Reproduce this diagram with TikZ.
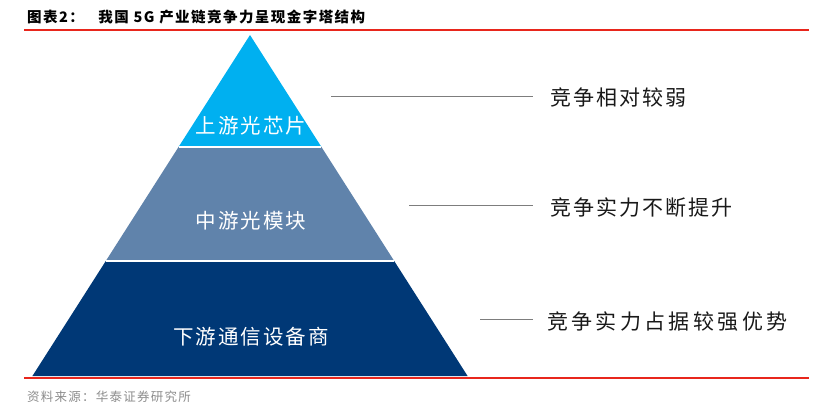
\documentclass[tikz,border=0pt]{standalone}
\usepackage{fontspec}
\usetikzlibrary{calc,positioning}
\newfontfamily\cjk{Noto Sans CJK SC}[LetterSpace=10]
\newfontfamily\cjkwide{Noto Sans CJK SC}[LetterSpace=16]
\definecolor{dgSky}  {RGB}{  0,176,240}
\definecolor{dgSteel}{RGB}{ 96,131,171}
\definecolor{dgNavy} {RGB}{  0, 56,118}
\definecolor{dgRule} {RGB}{232, 38, 28}
\definecolor{dgLead} {RGB}{125,125,125}
\definecolor{dgSrc}  {RGB}{140,140,140}
\definecolor{dgInk}  {RGB}{ 25, 25, 25}

\begin{document}
\begin{tikzpicture}[
  x=1pt,y=-1pt,
  tier/.style={draw=white,line width=1.5pt},
  tierlab/.style={text=white,inner sep=0pt,
                  font=\cjk\fontsize{20.5}{24}\selectfont},
  note/.style={text=dgInk,anchor=west,inner sep=0pt,
               font=\cjk\fontsize{21}{24}\selectfont},
  lead/.style={draw=dgLead,line width=1.5pt},
  rule/.style={draw=dgRule,line width=1.3pt}
]
\useasboundingbox (0,0) rectangle (821,418);

% --- header and footer
\node[anchor=west,inner sep=0pt,text=black,
      font=\cjk\bfseries\fontsize{14.5}{16}\selectfont] (title) at (27,17)
     {图表2：\hspace{1em}我国 5G 产业链竞争力呈现金字塔结构};
\coordinate (rTL) at (24,30);  \coordinate (rTR) at (809,30);
\coordinate (rBL) at (24,378); \coordinate (rBR) at (809,378);
\draw[rule] (rTL) -- (rTR);
\draw[rule] (rBL) -- (rBR);
\node[anchor=west,inner sep=0pt,text=dgSrc,
      font=\cjk\fontsize{12.5}{14}\selectfont] (src) at (27,397)
     {资料来源：华泰证券研究所};

% --- pyramid
\coordinate (apex) at (250,35);
\coordinate (bL) at (32.4,376);
\coordinate (bR) at (467.6,376);
\coordinate (aL) at ($(apex)!0.3284!(bL)$);
\coordinate (aR) at ($(apex)!0.3284!(bR)$);
\coordinate (mL) at ($(apex)!0.6628!(bL)$);
\coordinate (mR) at ($(apex)!0.6628!(bR)$);
\fill[dgSky]   (apex) -- (aR) -- (aL) -- cycle;
\fill[dgSteel] (aL) -- (aR) -- (mR) -- (mL) -- cycle;
\fill[dgNavy]  (mL) -- (mR) -- (bR) -- (bL) -- cycle;
\draw[tier] (aL) -- (aR);
\draw[tier] (mL) -- (mR);

\node[tierlab] (up)   at (251,126) {上游光芯片};
\node[tierlab] (mid)  at (251,221) {中游光模块};
\node[tierlab] (down) at (251,337) {下游通信设备商};

% --- notes on the right
\node[note] (n1) at (550,97)  {竞争相对较弱};
\node[note] (n2) at (550,207) {竞争实力不断提升};
\node[note,font=\cjkwide\fontsize{21}{24}\selectfont] (n3) at (547,322)
     {竞争实力占据较强优势};
\coordinate (l1) at (331,96.5);
\coordinate (l2) at (409,205.5);
\coordinate (l3) at (480,319.5);
\draw[lead] (l1) -- ([xshift=-17pt,yshift=0.5pt]n1.west);
\draw[lead] (l2) -- ([xshift=-17pt,yshift=1.5pt]n2.west);
\draw[lead] (l3) -- ([xshift=-14pt,yshift=2.5pt]n3.west);
\end{tikzpicture}
\end{document}
